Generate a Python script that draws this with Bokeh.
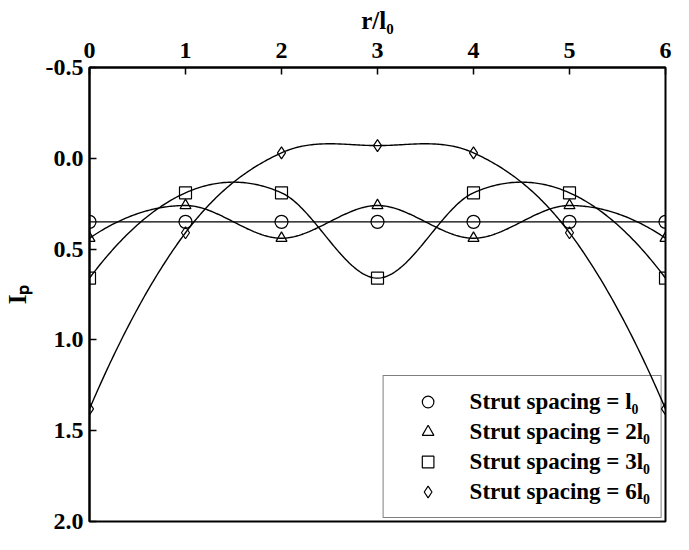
import numpy as np
from bokeh.plotting import figure
from bokeh.models import Range1d, Legend, LegendItem, FixedTicker, PrintfTickFormatter
from bokeh.embed import file_html
from bokeh.resources import INLINE

# ---- data ----
r_over_l0 = [0, 1, 2, 3, 4, 5, 6]
ip_spacing_1 = [0.35, 0.35, 0.35, 0.35, 0.35, 0.35, 0.35]
ip_spacing_2 = [0.44, 0.26, 0.44, 0.26, 0.44, 0.26, 0.44]
ip_spacing_3 = [0.66, 0.19, 0.19, 0.66, 0.19, 0.19, 0.66]
ip_spacing_6 = [1.38, 0.41, -0.03, -0.07, -0.03, 0.41, 1.38]
x_ticks = [0, 1, 2, 3, 4, 5, 6]
y_ticks = [-0.5, 0.0, 0.5, 1.0, 1.5, 2.0]
series_labels = ["Strut spacing = l\u2080", "Strut spacing = 2l\u2080",
                 "Strut spacing = 3l\u2080", "Strut spacing = 6l\u2080"]
series_markers = ["circle", "triangle", "square", "diamond"]


def smooth_curve(xs, ys, n=60):
    """Smooth (Catmull-Rom style Hermite) line drawn through the data points."""
    x = np.asarray(xs, float)
    y = np.asarray(ys, float)
    k = len(x)
    m = np.zeros(k)
    for i in range(1, k - 1):
        m[i] = (y[i + 1] - y[i - 1]) / (x[i + 1] - x[i - 1])
    m[0] = 2 * (y[1] - y[0]) / (x[1] - x[0]) - m[1]
    m[-1] = 2 * (y[-1] - y[-2]) / (x[-1] - x[-2]) - m[-2]
    out_x, out_y = [], []
    for i in range(k - 1):
        h = x[i + 1] - x[i]
        t = np.linspace(0, 1, n, endpoint=(i == k - 2))
        h00 = 2 * t ** 3 - 3 * t ** 2 + 1
        h10 = t ** 3 - 2 * t ** 2 + t
        h01 = -2 * t ** 3 + 3 * t ** 2
        h11 = t ** 3 - t ** 2
        out_x.append(x[i] + t * h)
        out_y.append(h00 * y[i] + h10 * h * m[i] + h01 * y[i + 1] + h11 * h * m[i + 1])
    return np.concatenate(out_x), np.concatenate(out_y)


FONT = "Liberation Serif"

p = figure(width=673, height=534, output_backend="svg", toolbar_location=None,
           x_axis_location="above",
           x_range=Range1d(0, 6), y_range=Range1d(2.0, -0.5),
           min_border_left=84, min_border_right=8, min_border_top=67,
           min_border_bottom=13)
p.grid.visible = False
p.outline_line_color = "black"
p.outline_line_width = 2
p.background_fill_color = "white"
p.border_fill_color = "white"

for ax in (p.xaxis[0], p.yaxis[0]):
    ax.axis_line_color = "black"
    ax.axis_line_width = 2
    ax.major_tick_in = 7
    ax.major_tick_out = 0
    ax.major_tick_line_width = 1.5
    ax.minor_tick_line_color = None
    ax.major_label_text_font = FONT
    ax.major_label_text_font_style = "bold"
    ax.major_label_text_font_size = "24px"
    ax.major_label_text_color = "black"
    ax.axis_label_text_font = FONT
    ax.axis_label_text_font_style = "bold"
    ax.axis_label_text_font_size = "25px"
    ax.axis_label_text_color = "black"

p.xaxis.ticker = FixedTicker(ticks=x_ticks)
p.yaxis.ticker = FixedTicker(ticks=y_ticks)
p.yaxis.formatter = PrintfTickFormatter(format="%.1f")
p.xaxis.axis_label = "r/l\u2080"
p.yaxis.axis_label = "I\u209a"
p.xaxis.major_label_standoff = 10
p.xaxis.axis_label_standoff = 6
p.yaxis.major_label_standoff = 6
p.yaxis.axis_label_standoff = 12

all_series = [ip_spacing_1, ip_spacing_2, ip_spacing_3, ip_spacing_6]
marker_sizes = [13, 11, 12, 12]
items = []
for ys, mk, lab, ms in zip(all_series, series_markers, series_labels, marker_sizes):
    xx, yy = smooth_curve(r_over_l0, ys)
    p.line(xx, yy, line_color="black", line_width=1.4)
    r = p.scatter(r_over_l0, ys, marker=mk, size=ms, fill_color=None,
                  line_color="black", line_width=1.2)
    items.append(LegendItem(label=lab, renderers=[r]))

legend = Legend(items=items, location="bottom_right")
legend.label_text_font = FONT
legend.label_text_font_style = "bold"
legend.label_text_font_size = "23px"
legend.label_text_color = "black"
legend.border_line_color = "black"
legend.border_line_width = 1.5
legend.background_fill_alpha = 0.0
legend.glyph_width = 66
legend.glyph_height = 29
legend.label_height = 25
legend.spacing = 1
legend.padding = 11
legend.margin = 3
legend.label_standoff = 9
p.add_layout(legend, "center")

open("out.html", "w").write(file_html(p, INLINE))
